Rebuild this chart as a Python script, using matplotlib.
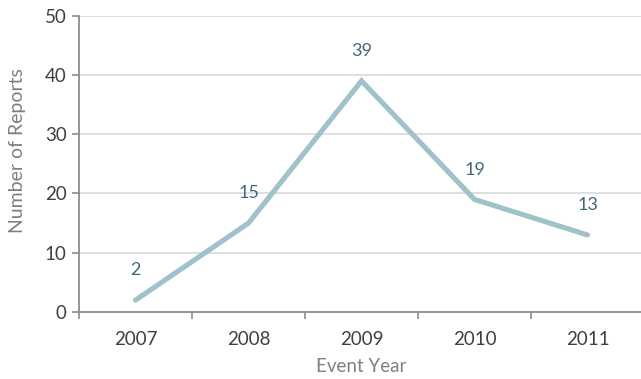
import matplotlib
matplotlib.use("Agg")
import matplotlib.pyplot as plt
import numpy as np

years = ["2007", "2008", "2009", "2010", "2011"]
reports = [2, 15, 39, 19, 13]
yticks = [0, 10, 20, 30, 40, 50]

plt.rcParams['font.family'] = ['Lato', 'DejaVu Sans']

fig = plt.figure(figsize=(6.41, 3.79), dpi=100)
ax = fig.add_axes([79/641, 67/379, 565/641, 296.3/379])

x = np.arange(len(years))
line_color = "#9fc3c9"
label_color = "#3e6a76"
ax.plot(x, reports, color=line_color, lw=3.7, solid_capstyle='round', solid_joinstyle='miter', zorder=3)
for xi, v in zip(x, reports):
    ax.annotate(str(v), (xi, v), xytext=(0, 21.5), textcoords='offset points',
                ha='center', va='center', fontsize=13, color=label_color)

ax.set_xlim(-0.5, len(years) - 0.5)
ax.set_ylim(0, 50)
ax.set_yticks(yticks)
ax.set_xticks(x)
ax.set_xticklabels(years)
ax.set_xticks(np.arange(-0.5, len(years)), minor=True)

for yv in yticks[1:]:
    ax.axhline(yv, color="#d9d9d9", lw=1.2, zorder=1)

for s in ['top', 'right']:
    ax.spines[s].set_visible(False)
for s in ['left', 'bottom']:
    ax.spines[s].set_color("#8c8c8c")
    ax.spines[s].set_linewidth(1.3)

ax.tick_params(axis='y', length=5, width=1.2, color="#8c8c8c", labelsize=13.5, labelcolor="#404040", pad=4)
ax.tick_params(axis='x', which='major', length=0, labelsize=13.5, labelcolor="#404040", pad=14)
ax.tick_params(axis='x', which='minor', length=5, width=1.2, color="#8c8c8c")

ax.set_ylabel("Number of Reports", fontsize=14, color="#7f7f7f")
ax.yaxis.set_label_coords(-0.093, 0.545)
ax.set_xlabel("Event Year", fontsize=13.5, color="#7f7f7f", labelpad=7)

fig.savefig("out.png", dpi=100)
